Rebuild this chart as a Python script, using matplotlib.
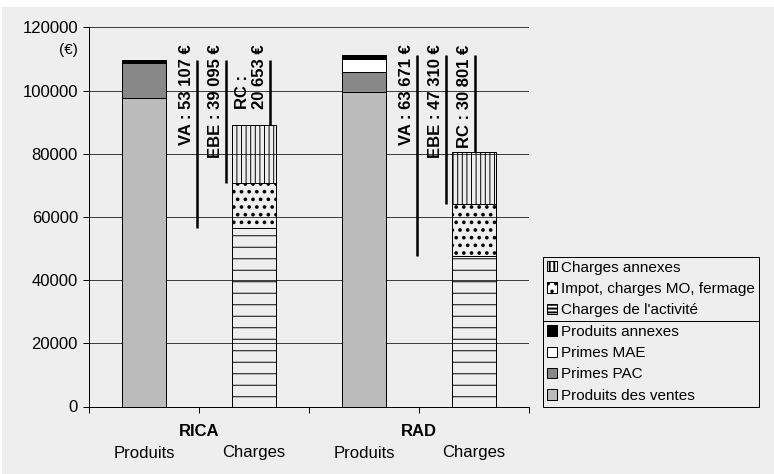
import matplotlib
matplotlib.use('Agg')
import matplotlib.pyplot as plt
from matplotlib.patches import Patch, Rectangle
import numpy as np

# picture drawn at 138 dpi so the hatch spacing matches the original
DPI = 138
K = 100 / DPI


def px(n):
    # pixels -> points
    return n * 72 / DPI


plt.rcParams['font.family'] = ['Liberation Sans', 'DejaVu Sans']
plt.rcParams['hatch.color'] = 'black'

# données (€)
groups = ['RICA', 'RAD']
bar_labels = ['Produits', 'Charges', 'Produits', 'Charges']

produits_ventes = [97600, 99400]
primes_pac = [11100, 6400]
primes_mae = [0, 4200]
produits_annexes = [1000, 1300]

charges_activite = [56600, 47600]
impot_mo_fermage = [14000, 16400]
charges_annexes = [18400, 16500]

va = [53107, 63671]
ebe = [39095, 47310]
rc = [20653, 30801]

x_prod = np.array([0, 2])
x_ch = np.array([1, 3])
w = 0.4

fig = plt.figure(figsize=(774 / DPI, 474 / DPI), dpi=DPI, facecolor='white')
fig.patches.append(Rectangle((2 / 774, 0), 1, (474 - 7) / 474, transform=fig.transFigure,
                             facecolor='#eeeeee', edgecolor='none', zorder=-10))
ax = fig.add_axes([89 / 774, 67.5 / 474, 440 / 774, 379.2 / 474])
ax.set_facecolor('none')

edge = dict(edgecolor='black', linewidth=px(1))

# produits
prod_series = [
    (produits_ventes, '#bbbbbb', 'Produits des ventes'),
    (primes_pac, '#888888', 'Primes PAC'),
    (primes_mae, 'white', 'Primes MAE'),
    (produits_annexes, 'black', 'Produits annexes'),
]
bottom = np.zeros(2)
for vals, col, lab in prod_series:
    ax.bar(x_prod, vals, w, bottom=bottom, color=col, **edge)
    bottom += np.array(vals)
prod_total = bottom.copy()

# charges : (valeurs, hachure barre, hachure légende, épaisseur, libellé)
ch_series = [
    (charges_activite, '--', '------', 0.5, "Charges de l'activité"),
    (impot_mo_fermage, '...', '...', 1.1, 'Impot, charges MO, fermage'),
    (charges_annexes, '|||||', '|||||', 0.5, 'Charges annexes'),
]
bottom = np.zeros(2)
for vals, hatch, _, hlw, lab in ch_series:
    with plt.rc_context({'hatch.linewidth': hlw}):
        bars = ax.bar(x_ch, vals, w, bottom=bottom, facecolor='none', hatch=hatch, **edge)
    for b in bars:
        if hasattr(b, 'set_hatch_linewidth'):
            b.set_hatch_linewidth(hlw)
    bottom += np.array(vals)
ch_total = bottom.copy()

# soldes : VA, EBE, RC
va_off = [0.485, 0.485]
ebe_off = [0.743, 0.743]
rc_off = [1.145, 1.009]
rc_sep = ['\n', ' ']
TEXT_TOP = 114600


def euro(v):
    return f"{v:,}".replace(',', ' ') + ' €'


for i in range(2):
    act = charges_activite[i]
    items = [
        (x_prod[i] + va_off[i], act, 'VA : ' + euro(va[i])),
        (x_prod[i] + ebe_off[i], act + impot_mo_fermage[i], 'EBE : ' + euro(ebe[i])),
        (x_prod[i] + rc_off[i], ch_total[i], 'RC :' + rc_sep[i] + euro(rc[i])),
    ]
    for x, low, txt in items:
        ax.vlines(x, low, prod_total[i], color='black', lw=px(2.5), zorder=3)
        ax.annotate(txt, xy=(x, TEXT_TOP), xytext=(-px(3), 0), textcoords='offset points',
                    rotation=90, ha='right', va='top', multialignment='left',
                    fontweight='bold', fontsize=12 * K)

# axes
ax.set_ylim(0, 120000)
ax.set_xlim(-0.5, 3.5)
ax.set_yticks(range(0, 120001, 20000))
ax.yaxis.grid(True, color='#404040', lw=px(1))
ax.set_axisbelow(True)
for s in ['top', 'right']:
    ax.spines[s].set_visible(False)
for s in ['left', 'bottom']:
    ax.spines[s].set_linewidth(px(1))
ax.tick_params(axis='y', length=px(6), width=px(1), labelsize=12 * K, pad=px(5))

ax.set_xticks(range(4), bar_labels)
ax.set_xticks(np.arange(-0.5, 4, 1), minor=True)
ax.tick_params(axis='x', which='major', length=0, labelsize=12 * K, pad=px(39))
ax.tick_params(axis='x', which='minor', length=px(6), width=px(1))

for i, g in enumerate(groups):
    ax.annotate(g, xy=((x_prod[i] + x_ch[i]) / 2, 0), xycoords=('data', 'axes fraction'),
                xytext=(0, -px(25.5)), textcoords='offset points', ha='center', va='center',
                fontweight='bold', fontsize=12 * K)

ax.annotate('(€)', xy=(0, 112800), xycoords=('axes fraction', 'data'), xytext=(-px(11), 0),
            textcoords='offset points', ha='right', va='center', fontsize=11 * K)

# légende en deux blocs (charges au-dessus, produits en dessous)
leg_kw = dict(mode='expand', borderaxespad=0, fontsize=11 * K, handlelength=0.65,
              handleheight=0.65, handletextpad=0.3, labelspacing=0.48, borderpad=0.25,
              fancybox=False, framealpha=1, facecolor='#eeeeee', edgecolor='black')
h_ch = [Patch(facecolor='white', edgecolor='black', hatch=lh, lw=px(1)) for _, _, lh, _, _ in ch_series]
l_ch = [lab for _, _, _, _, lab in ch_series]
h_pr = [Patch(facecolor=c, edgecolor='black', lw=px(1)) for _, c, _ in prod_series]
l_pr = [lab for _, _, lab in prod_series]

x0, x1 = 543 / 774, 759 / 774
ysep = (474 - 321) / 474
leg1 = fig.legend(h_ch[::-1], l_ch[::-1], loc='lower left',
                  bbox_to_anchor=(x0, ysep, x1 - x0, 0), **leg_kw)
leg2 = fig.legend(h_pr[::-1], l_pr[::-1], loc='upper left',
                  bbox_to_anchor=(x0, ysep, x1 - x0, 0), **leg_kw)
for lg in (leg1, leg2):
    lg.get_frame().set_linewidth(px(1))

fig.savefig('out.png', dpi=DPI)
